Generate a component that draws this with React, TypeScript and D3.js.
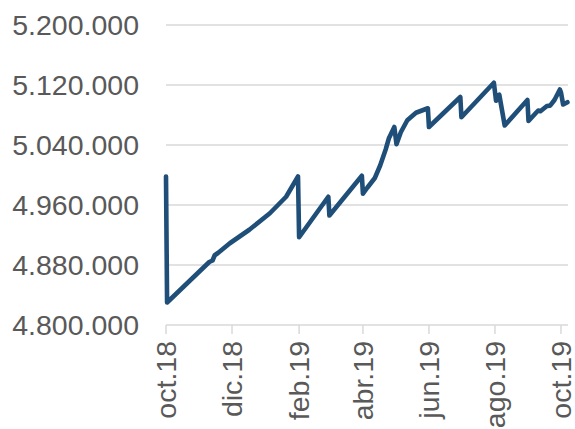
import React from "react";
import * as d3 from "d3";

const dates: string[] = [
  "2018-10-01", "2018-10-02", "2018-11-10", "2018-11-13", "2018-11-15", "2018-11-18",
  "2018-11-29", "2018-12-17", "2019-01-05", "2019-01-20", "2019-01-31",
  "2019-02-01", "2019-02-28", "2019-03-01", "2019-03-31",
  "2019-04-01", "2019-04-05", "2019-04-12", "2019-04-17", "2019-04-22", "2019-04-25", "2019-04-30",
  "2019-05-02", "2019-05-06", "2019-05-12", "2019-05-20", "2019-05-31",
  "2019-06-01", "2019-06-30", "2019-07-01", "2019-07-31",
  "2019-08-02", "2019-08-04", "2019-08-05", "2019-08-10", "2019-08-31",
  "2019-09-01", "2019-09-08", "2019-09-10", "2019-09-12", "2019-09-18", "2019-09-21",
  "2019-09-25", "2019-09-30", "2019-10-01", "2019-10-03", "2019-10-07",
];

const values: number[] = [
  4998000, 4830000, 4884000, 4886000, 4893000, 4896000,
  4909000, 4927000, 4949000, 4971000, 4998000,
  4917000, 4971000, 4946000, 4999000,
  4975000, 4983000, 4996000, 5013000, 5034000, 5049000, 5064000,
  5041000, 5057000, 5073000, 5083000, 5089000,
  5064000, 5104000, 5077000, 5123000,
  5099000, 5106000, 5107000, 5066000, 5100000,
  5072000, 5083000, 5086000, 5085000, 5092000, 5092500,
  5100000, 5114000, 5110000, 5094000, 5097000,
];

const yTicks: number[] = [4800000, 4880000, 4960000, 5040000, 5120000, 5200000];
const xTickDates: string[] = ["2018-10-01", "2018-12-01", "2019-02-01", "2019-04-01", "2019-06-01", "2019-08-01", "2019-10-01"];
const xTickLabels: string[] = ["oct.18", "dic.18", "feb.19", "abr.19", "jun.19", "ago.19", "oct.19"];

const W = 575;
const H = 429;
const left = 166;
const right = 568;
const top = 25;
const bottom = 325;

const parse = d3.timeParse("%Y-%m-%d");
const locale = d3.formatLocale({ decimal: ",", thousands: ".", grouping: [3], currency: ["", "€"] });
const fmt = locale.format(",.0f");

export default function App() {
  const x = d3
    .scaleTime()
    .domain([parse("2018-10-01") as Date, new Date(2019, 9, 7, 12)])
    .range([left, right]);
  const y = d3.scaleLinear().domain([4800000, 5200000]).range([bottom, top]);

  const data = dates.map((d, i) => ({ date: parse(d) as Date, value: values[i] }));
  const line = d3
    .line<{ date: Date; value: number }>()
    .x((d) => x(d.date))
    .y((d) => y(d.value));

  const font = "'Liberation Sans', Arial, sans-serif";
  return (
    <svg width={W} height={H} style={{ position: "absolute", left: 0, top: 0, background: "#fff" }}>
      {yTicks.map((t) => (
        <g key={t}>
          <line x1={left} x2={right} y1={y(t)} y2={y(t)} stroke="#d9d9d9" strokeWidth={1.5} />
          <text
            x={139}
            y={y(t)}
            dy="0.36em"
            textAnchor="end"
            fontFamily={font}
            fontSize={28.5}
            fill="#595959"
          >
            {fmt(t)}
          </text>
        </g>
      ))}
      {xTickDates.map((d, i) => {
        const xx = x(parse(d) as Date);
        return (
          <g key={d}>
            <line x1={xx} x2={xx} y1={bottom} y2={bottom + 9} stroke="#d9d9d9" strokeWidth={1.5} />
            <text
              transform={`translate(${xx},${bottom + 16}) rotate(-90)`}
              dy="0.36em"
              textAnchor="end"
              fontFamily={font}
              fontSize={28.5}
              fill="#595959"
            >
              {xTickLabels[i]}
            </text>
          </g>
        );
      })}
      <path
        d={line(data) || ""}
        fill="none"
        stroke="#1f4e79"
        strokeWidth={4.6}
        strokeLinejoin="round"
        strokeLinecap="round"
      />
    </svg>
  );
}
